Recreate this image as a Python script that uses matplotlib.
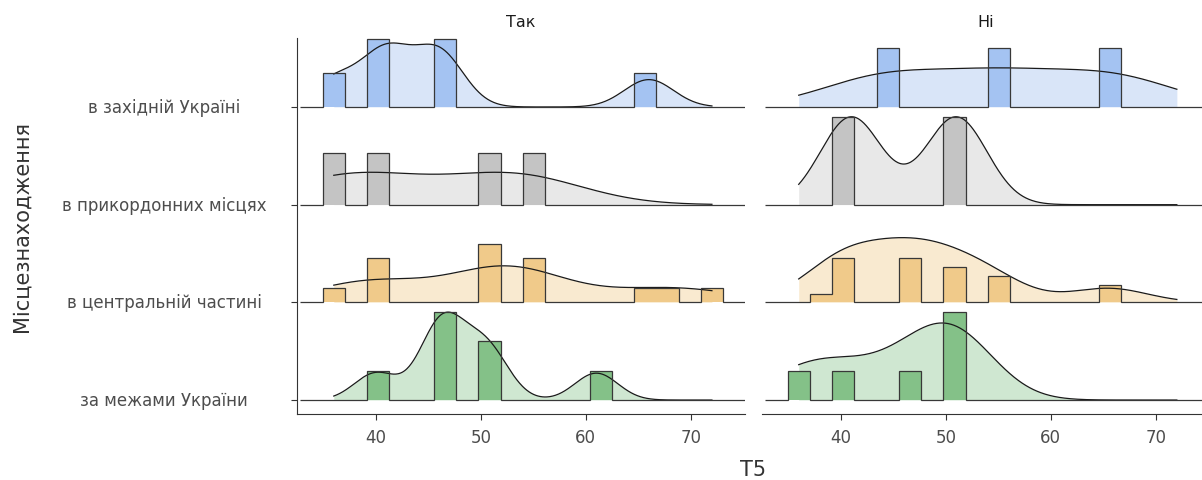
import numpy as np
import matplotlib.pyplot as plt
from matplotlib.transforms import blended_transform_factory

plt.rcParams['font.family'] = ['DejaVu Sans']

# rows from bottom to top
regions = ["за межами України", "в центральній частині",
           "в прикордонних місцях", "в західній Україні"]
facets = ["Так", "Ні"]

# T5 scores, answer "Так"
tak_mezhi = [40, 46, 46, 47, 50, 51, 61]
tak_centr = [36, 40, 40, 41, 50, 51, 51, 51, 54, 55, 56, 65, 68, 72]
tak_kordon = [36, 40, 51, 55]
tak_zahid = [36, 41, 41, 46, 46, 66]
# answer "Ні"
ni_mezhi = [36, 40, 46, 50, 51, 51]
ni_centr = [38.5, 39.5, 40.0, 40.5, 41.0, 41.2, 45.6, 45.6, 45.6, 45.8, 46.0,
            49.8, 49.8, 49.9, 50.0, 54.0, 54.2, 54.6, 65.0, 66.0]
ni_kordon = [41, 51]
ni_zahid = [44, 55, 66]

panels = [[tak_mezhi, tak_centr, tak_kordon, tak_zahid],
          [ni_mezhi, ni_centr, ni_kordon, ni_zahid]]

bar_colors = ["#84c188", "#f0ca8a", "#c4c4c4", "#a4c3f2"]
dens_colors = ["#cfe7d1", "#f9ead0", "#e8e8e8", "#d9e5f8"]

tick_vals = [40, 50, 60, 70]
n_bins = 18
ridge_scale = 0.9


def bw_nrd0(x):
    x = np.asarray(x, float)
    sd = x.std(ddof=1)
    q75, q25 = np.percentile(x, [75, 25])
    lo = min(sd, (q75 - q25) / 1.34)
    return 0.9 * lo * len(x) ** -0.2


def kde(x, grid):
    x = np.asarray(x, float)
    bw = bw_nrd0(x)
    z = (grid[:, None] - x[None, :]) / bw
    return np.exp(-0.5 * z ** 2).sum(axis=1) / (len(x) * bw * np.sqrt(2 * np.pi))


all_vals = np.concatenate([np.asarray(g, float) for p in panels for g in p])
lo, hi = all_vals.min(), all_vals.max()
width = (hi - lo) / (n_bins - 1)
edges = lo + width * (np.arange(n_bins + 3) - 1.5)
grid = np.linspace(lo, hi, 512)

fig = plt.figure(figsize=(12.02, 4.81), dpi=100)
ax_l = fig.add_axes([0.2471, 0.1372, 0.3727, 0.7817])
ax_r = fig.add_axes([0.6339, 0.1372, 0.3727, 0.7817])
axes = [ax_l, ax_r]

for ax, groups, title in zip(axes, panels, facets):
    dens = [kde(g, grid) for g in groups]
    hists = [np.histogram(g, bins=edges)[0] / (len(g) * width) for g in groups]
    d_fac = ridge_scale / max(d.max() for d in dens)
    h_fac = ridge_scale / max(h.max() for h in hists)
    for i in range(len(groups)):
        row = i + 1
        top_d = row + dens[i] * d_fac
        top_h = row + hists[i] * h_fac
        z = 10 - i * 2
        ax.fill_between(grid, row, top_d, color=dens_colors[i], lw=0, zorder=z)
        ax.stairs(top_h, edges, baseline=row, fill=True, color=bar_colors[i],
                  lw=0, zorder=z + 0.2)
        ax.plot(grid, top_d, color="#1a1a1a", lw=0.9, zorder=z + 0.4)
        ax.stairs(top_h, edges, baseline=row, color="#383838", lw=0.9,
                  zorder=z + 0.6)

    ax.set_xlim(32.5, 75.15)
    ax.set_ylim(0.857, 4.706)
    ax.set_xticks(tick_vals)
    ax.tick_params(axis='x', length=4, width=0.8, color="#333333",
                   labelsize=12, labelcolor="#4d4d4d", pad=6)
    for s in ['top', 'right']:
        ax.spines[s].set_visible(False)
    ax.spines['bottom'].set_color("#333333")
    ax.spines['bottom'].set_linewidth(0.8)
    ax.text(0.5, 1.045, title, transform=ax.transAxes, ha='center',
            va='center', fontsize=11.5, color="#1a1a1a")

ax_l.spines['left'].set_color("#333333")
ax_l.spines['left'].set_linewidth(0.8)
ax_l.set_yticks([1, 2, 3, 4])
ax_l.set_yticklabels([])
ax_l.tick_params(axis='y', length=4, width=0.8, color="#333333")
trans = blended_transform_factory(fig.transFigure, ax_l.transData)
for i, name in enumerate(regions):
    ax_l.text(164 / 1202, i + 1, name, transform=trans, ha='center',
              va='center', fontsize=12, color="#4d4d4d")

ax_r.spines['left'].set_visible(False)
ax_r.set_yticks([])

fig.text(753 / 1202, 1 - 470 / 481, "T5", ha='center', va='center',
         fontsize=15, color="#333333")
fig.text(22 / 1202, 1 - 227 / 481, "Місцезнаходження", rotation=90,
         ha='center', va='center', fontsize=15, color="#333333")

fig.savefig("out.png", dpi=100)
